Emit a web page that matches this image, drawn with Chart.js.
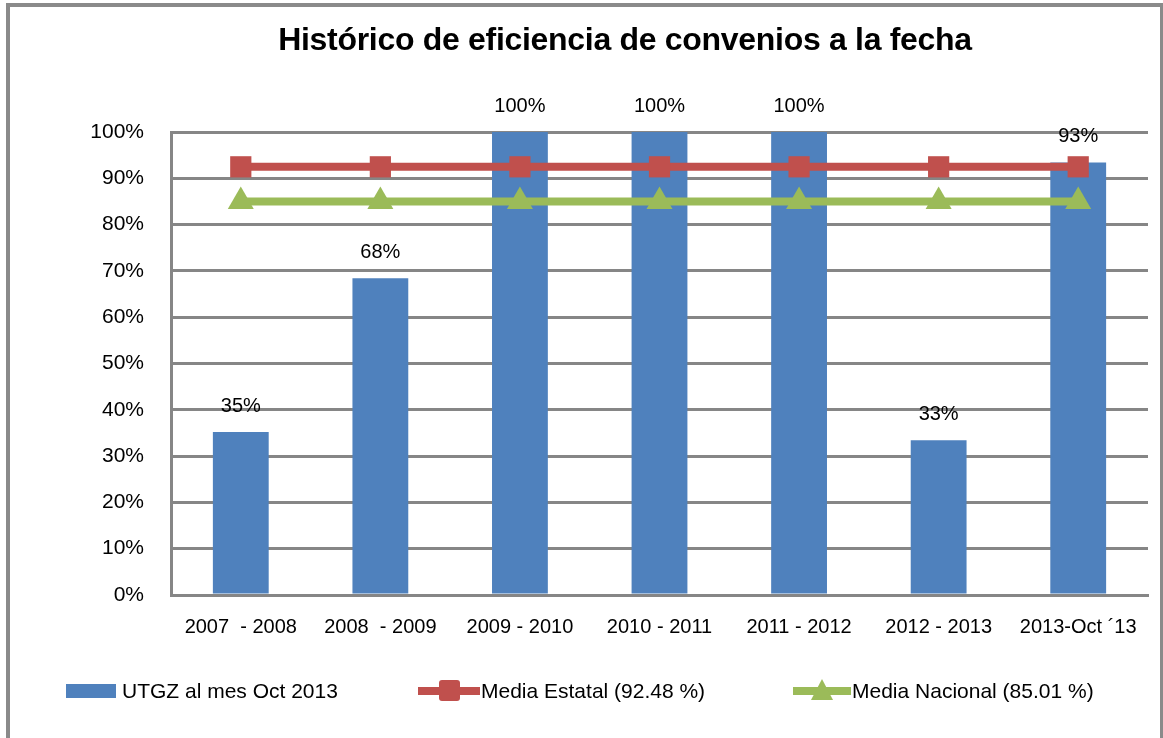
<!DOCTYPE html>
<html>
<head>
<meta charset="utf-8">
<script src="https://cdn.jsdelivr.net/npm/chart.js@4"></script>
<style>
  body { margin: 0; background: #fff; }
  #wrap { position: relative; width: 1163px; height: 738px; overflow: hidden; }
  #marco { position: absolute; left: 6px; top: 3px; width: 1150px; height: 760px; border: 4px solid #8a8a8a; }
  #titulo { position: absolute; left: 0; width: 1250px; top: 21px; text-align: center;
    font: bold 32px "Liberation Sans", sans-serif; color: #000; letter-spacing: -0.3px; }
  #leyenda { position: absolute; top: 678px; left: 0; height: 26px;
    font: 21px "Liberation Sans", sans-serif; color: #000; }
  .item { position: absolute; top: 0; white-space: nowrap; line-height: 26px; }
  .caja { position: absolute; background: #4F81BD; }
  .linea { position: absolute; height: 8px; }
  canvas { position: absolute; left: 0; top: 0; }
</style>
</head>
<body>
<div id="wrap">
  <div id="marco"></div>
  <canvas id="grafico" width="1163" height="738"></canvas>
  <div id="titulo">Histórico de eficiencia de convenios a la fecha</div>
  <div id="leyenda">
    <div class="caja" style="left:66px; top:6px; width:50px; height:14px;"></div>
    <div class="item" style="left:122px;">UTGZ al mes Oct 2013</div>
    <div class="linea" style="left:418px; top:9px; width:62px; background:#C0504D;"></div>
    <div style="position:absolute; left:439px; top:2px; width:21px; height:21px; background:#C0504D; border-radius:3px;"></div>
    <div class="item" style="left:481px;">Media Estatal (92.48 %)</div>
    <div class="linea" style="left:793px; top:9px; width:58px; background:#9BBB59;"></div>
    <div style="position:absolute; left:811px; top:1px; width:0; height:0; border-left:11px solid transparent; border-right:11px solid transparent; border-bottom:21px solid #9BBB59;"></div>
    <div class="item" style="left:852px;">Media Nacional (85.01 %)</div>
  </div>
</div>
<script>
const categorias = ["2007  - 2008", "2008  - 2009", "2009 - 2010", "2010 - 2011", "2011 - 2012", "2012 - 2013", "2013-Oct ´13"];
const utgz = [35.2, 68.4, 100, 100, 100, 33.4, 93.4];
const mediaEstatal = [92.48, 92.48, 92.48, 92.48, 92.48, 92.48, 92.48];
const mediaNacional = [85.01, 85.01, 85.01, 85.01, 85.01, 85.01, 85.01];
const ticksY = [0, 10, 20, 30, 40, 50, 60, 70, 80, 90, 100];

const fuente = "'Liberation Sans', sans-serif";
const gris = '#868686';

// etiquetas encima de las barras
const etiquetas = {
    id: 'etiquetas',
    afterDatasetsDraw(chart) {
        const c = chart.ctx;
        const meta = chart.getDatasetMeta(0);
        c.save();
        c.font = '20px ' + fuente;
        c.fillStyle = '#000';
        c.textAlign = 'center';
        c.textBaseline = 'middle';
        meta.data.forEach((barra, i) => {
            c.fillText(Math.round(utgz[i]) + '%', barra.x, barra.y - 26);
        });
        c.restore();
    }
};

const ctx = document.getElementById('grafico').getContext('2d');
const chart = new Chart(ctx, {
    data: {
        labels: categorias,
        datasets: [
            {
                type: 'bar',
                label: 'UTGZ al mes Oct 2013',
                data: utgz,
                backgroundColor: '#4F81BD',
                barPercentage: 0.4,
                categoryPercentage: 1,
                order: 2
            },
            {
                type: 'line',
                label: 'Media Estatal (92.48 %)',
                data: mediaEstatal,
                borderColor: '#C0504D',
                backgroundColor: '#C0504D',
                borderWidth: 8,
                pointStyle: 'rect',
                pointRadius: 15,
                pointBorderWidth: 0,
                order: 1
            },
            {
                type: 'line',
                label: 'Media Nacional (85.01 %)',
                data: mediaNacional,
                borderColor: '#9BBB59',
                backgroundColor: '#9BBB59',
                borderWidth: 8,
                pointStyle: 'triangle',
                pointRadius: 15,
                pointBorderWidth: 0,
                order: 0
            }
        ]
    },
    options: {
        responsive: false,
        animation: false,
        layout: { padding: { left: 10, top: 132, right: 13, bottom: 0 } },
        scales: {
            x: {
                grid: { display: false, drawTicks: false },
                border: { display: true, color: gris, width: 3 },
                ticks: { color: '#000', font: { family: fuente, size: 20 }, padding: 20, maxRotation: 0, autoSkip: false },
                afterFit: (s) => { s.height = 738 - 595; }
            },
            y: {
                min: 0,
                max: 100,
                afterBuildTicks: (s) => { s.ticks = ticksY.map(v => ({ value: v })); },
                grid: { color: gris, lineWidth: 3, drawTicks: false },
                border: { display: true, color: gris, width: 3 },
                ticks: { color: '#000', font: { family: fuente, size: 21 }, padding: 27, callback: (v) => v + '%' },
                afterFit: (s) => { s.width = 171 - 10; }
            }
        },
        plugins: {
            legend: { display: false },
            tooltip: { enabled: false }
        }
    },
    plugins: [etiquetas]
});
</script>
</body>
</html>
